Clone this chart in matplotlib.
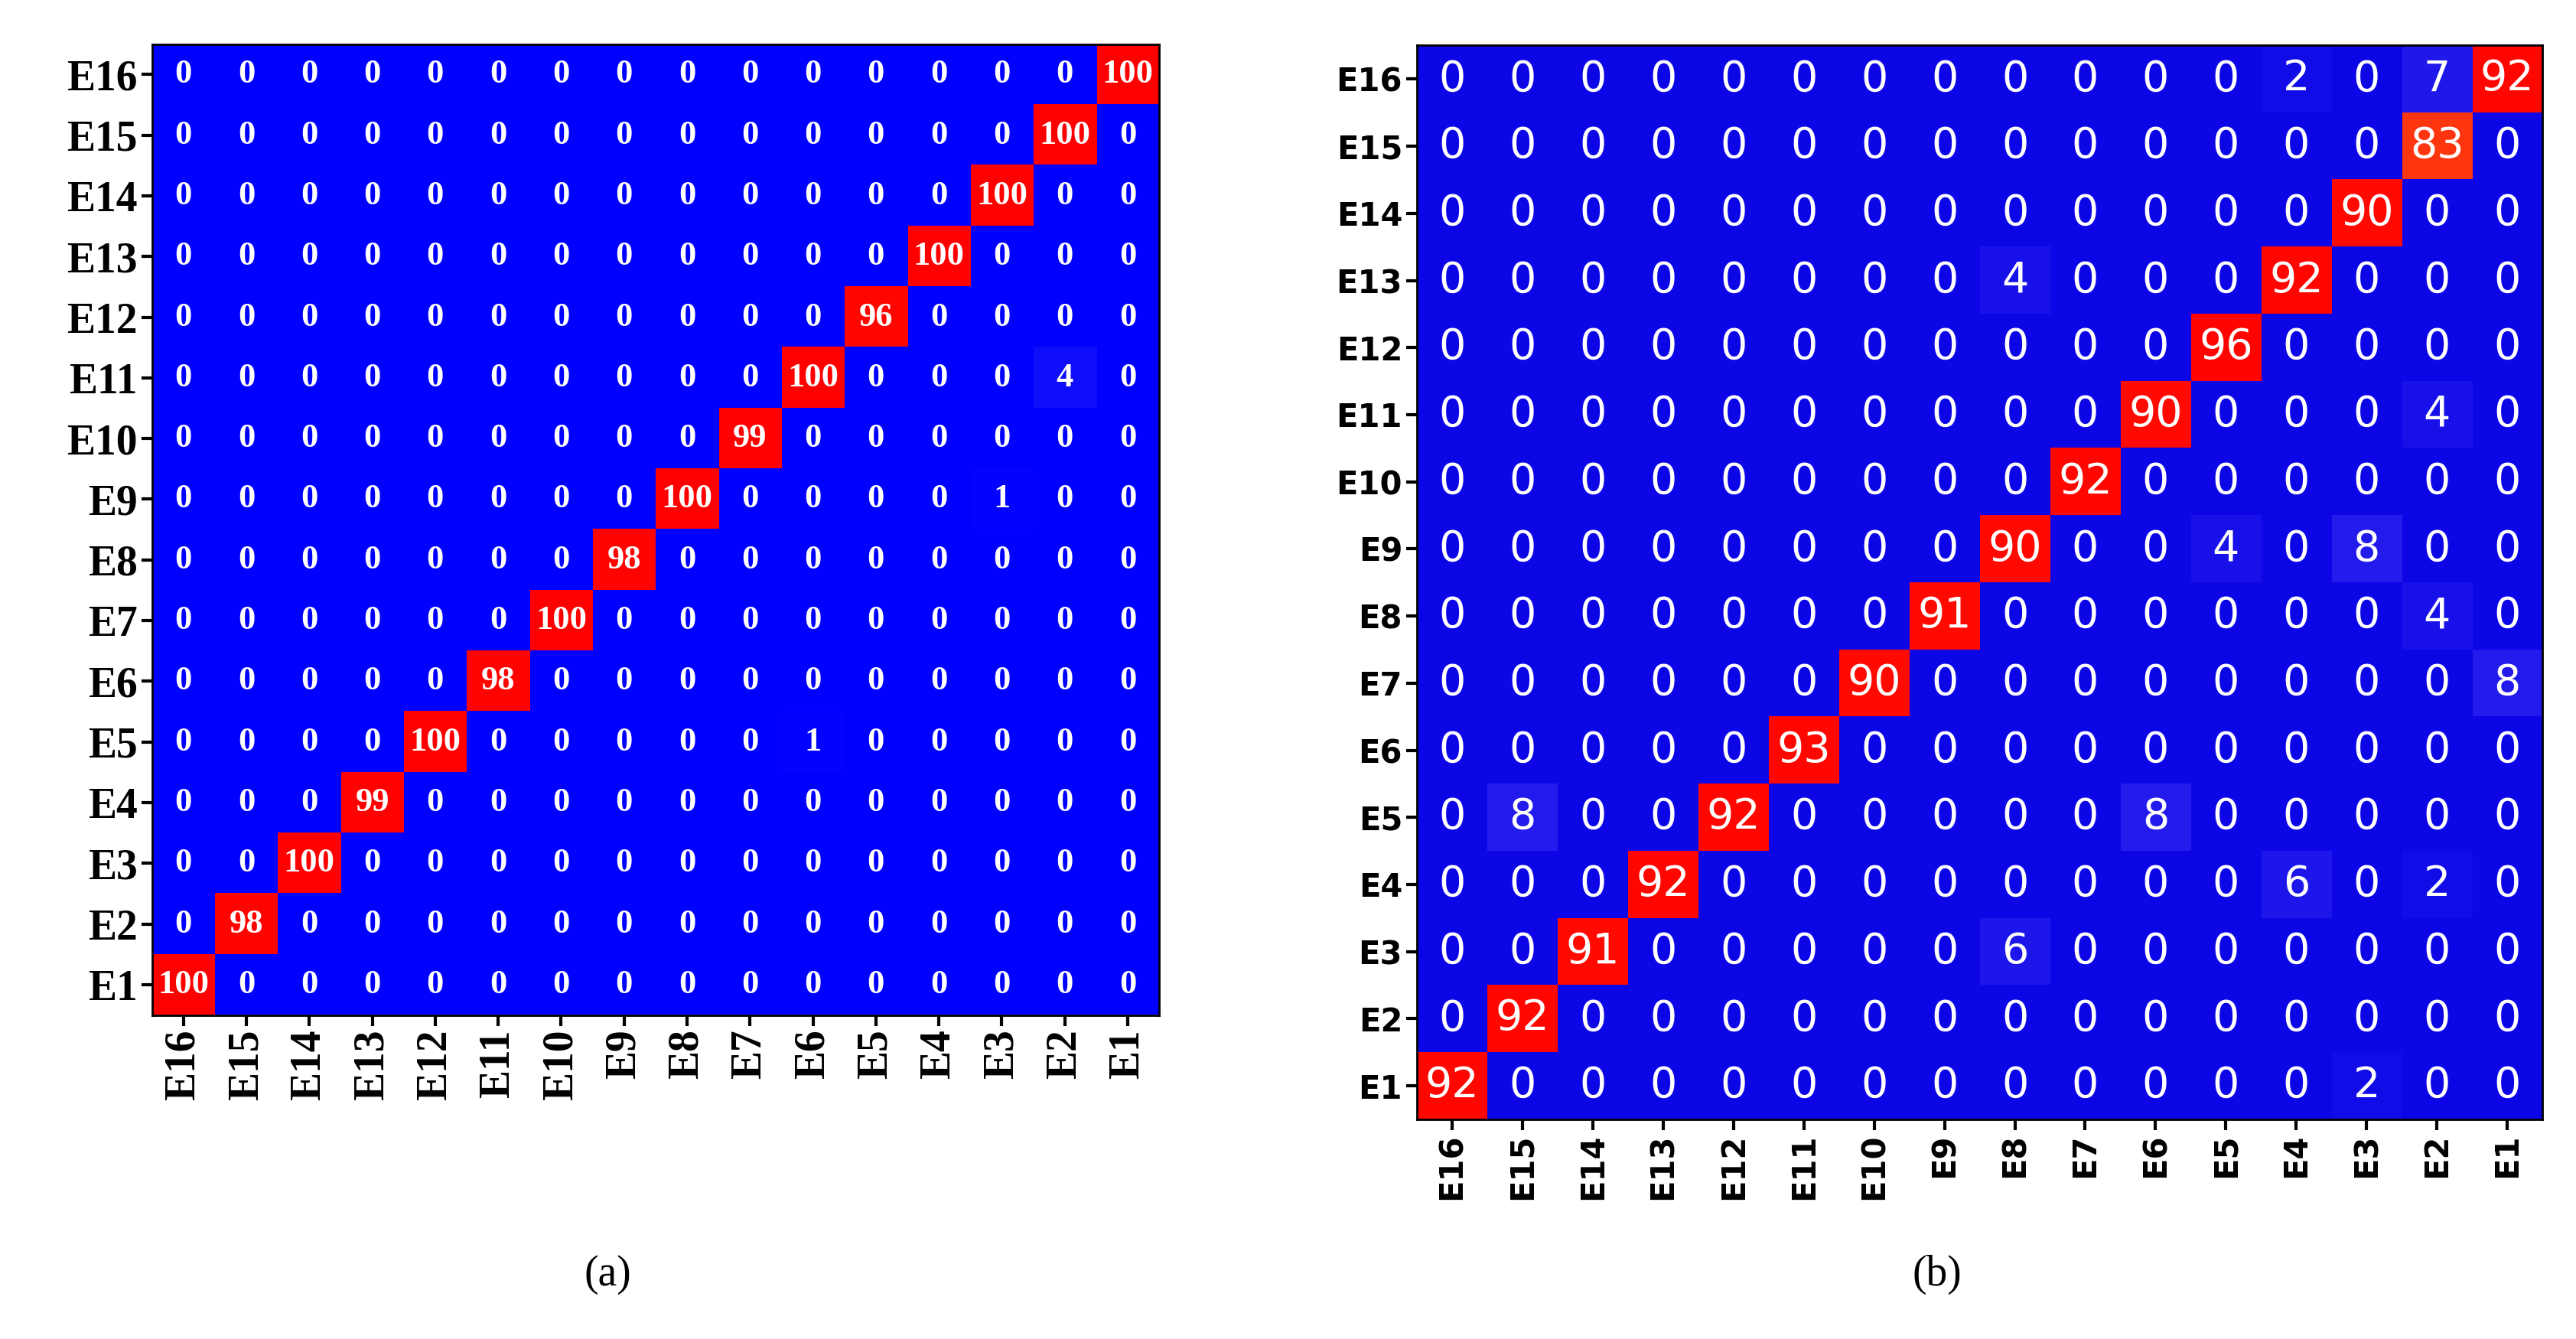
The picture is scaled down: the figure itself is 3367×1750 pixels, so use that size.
import numpy as np
import matplotlib
matplotlib.use("Agg")
import matplotlib.pyplot as plt
from matplotlib.colors import LinearSegmentedColormap

# class labels, rows top->bottom, columns left->right
row_labels = ["E16", "E15", "E14", "E13", "E12", "E11", "E10", "E9",
              "E8", "E7", "E6", "E5", "E4", "E3", "E2", "E1"]
col_labels = ["E16", "E15", "E14", "E13", "E12", "E11", "E10", "E9",
              "E8", "E7", "E6", "E5", "E4", "E3", "E2", "E1"]

# panel (a): diagonal (row E16..E1) and off-diagonal entries (row, col, value)
diag_a = [100, 100, 100, 100, 96, 100, 99, 100, 98, 100, 98, 100, 99, 100, 98, 100]
off_a = [("E11", "E2", 4), ("E9", "E3", 1), ("E5", "E6", 1)]

# panel (b)
diag_b = [92, 83, 90, 92, 96, 90, 92, 90, 91, 90, 93, 92, 92, 91, 92, 92]
off_b = [("E16", "E4", 2), ("E16", "E2", 7), ("E13", "E8", 4), ("E11", "E2", 4),
         ("E9", "E5", 4), ("E9", "E3", 8), ("E8", "E2", 4), ("E7", "E1", 8),
         ("E5", "E15", 8), ("E5", "E6", 8), ("E4", "E4", 6), ("E4", "E2", 2),
         ("E3", "E8", 6), ("E1", "E3", 2)]


def build(diag, off):
    m = np.zeros((16, 16))
    for i, v in enumerate(diag):
        m[i, 15 - i] = v
    for r, c, v in off:
        m[row_labels.index(r), col_labels.index(c)] = v
    return m


cmap_a = LinearSegmentedColormap.from_list(
    "cma", [(0.0, "#0000ff"), (0.1, "#2424f4"), (0.5, "#5050ff"),
            (0.8, "#ff5a20"), (0.9, "#ff1000"), (1.0, "#ff0000")])
cmap_b = LinearSegmentedColormap.from_list(
    "cmb", [(0.0, "#0c06e6"), (0.1, "#2a22ee"), (0.5, "#5050ff"),
            (0.8, "#ff4a18"), (0.9, "#ff0a00"), (1.0, "#ff0000")])

fig = plt.figure(figsize=(33.67, 17.5), dpi=100)

panels = [
    (build(diag_a, off_a), cmap_a, [0.059, 0.242, 0.391, 0.725], "Liberation Serif", 40, 32, "bold", "(a)", 0.236),
    (build(diag_b, off_b), cmap_b, [0.550, 0.164, 0.437, 0.802], "DejaVu Sans", 30, 40, "normal", "(b)", 0.752),
]

for mat, cmap, rect, fam, tick_fs, num_fs, num_w, tag, tag_x in panels:
    ax = fig.add_axes(rect)
    ax.imshow(mat, cmap=cmap, vmin=0, vmax=100, aspect="auto")
    for i in range(16):
        for j in range(16):
            ax.text(j, i, "%d" % mat[i, j], ha="center", va="center",
                    color="white", fontsize=num_fs, fontweight=num_w, family=fam)
    ax.set_xticks(range(16))
    ax.set_yticks(range(16))
    ax.set_xticklabels(col_labels, rotation=90, fontsize=tick_fs,
                       fontweight="bold", family=fam)
    ax.set_yticklabels(row_labels, fontsize=tick_fs, fontweight="bold", family=fam)
    ax.tick_params(length=10, width=3)
    for s in ax.spines.values():
        s.set_linewidth(2)
    fig.text(tag_x, 0.04, tag, ha="center", fontsize=40, family="Liberation Serif")

fig.savefig("out.png", dpi=100)
